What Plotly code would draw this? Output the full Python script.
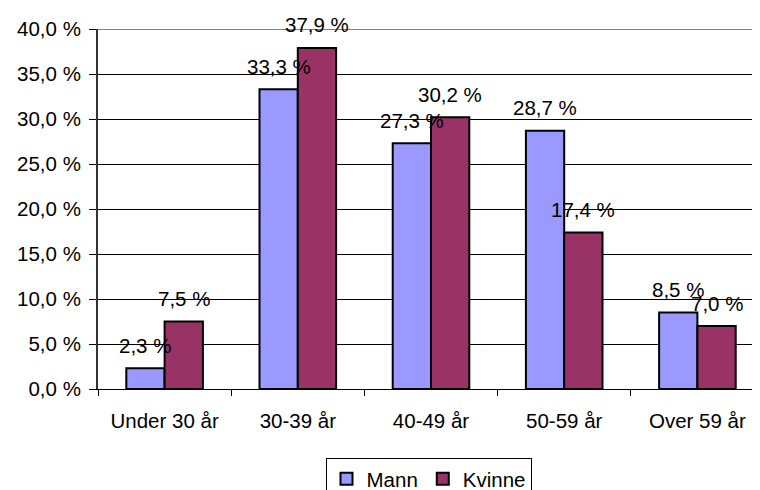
import plotly.graph_objects as go

categories = ["Under 30 år", "30-39 år", "40-49 år", "50-59 år", "Over 59 år"]
mann = [2.3, 33.3, 27.3, 28.7, 8.5]
kvinne = [7.5, 37.9, 30.2, 17.4, 7.0]
series_names = ["Mann", "Kvinne"]
y_tickvals = [0, 5, 10, 15, 20, 25, 30, 35, 40]
y_ticktext = ["0,0 %", "5,0 %", "10,0 %", "15,0 %", "20,0 %", "25,0 %", "30,0 %", "35,0 %", "40,0 %"]

FONT = "Liberation Sans, Arial, sans-serif"
FS = 20.5
colors = ["#9999FF", "#993366"]


def fmt(v):
    return f"{v:.1f}".replace(".", ",") + " %"


fig = go.Figure()
for name, vals, col in zip(series_names, [mann, kvinne], colors):
    fig.add_trace(go.Bar(
        x=categories, y=vals, name=name,
        marker=dict(color=col, line=dict(color="black", width=2)),
    ))

annotations = []
half = 19.15
for vals, sh in [(mann, -half), (kvinne, half)]:
    for c, v in zip(categories, vals):
        annotations.append(dict(
            x=c, y=v, xref="x", yref="y", text=fmt(v), showarrow=False,
            xshift=sh, yshift=23, yanchor="middle", xanchor="center",
            font=dict(family=FONT, size=FS, color="black"),
        ))

# page body has an 8px margin; margins below compensate so the plot lands where the reference has it
fig.update_layout(
    width=760, height=490,
    margin=dict(l=90, r=0, t=21, b=109, pad=0, autoexpand=False),
    paper_bgcolor="white", plot_bgcolor="white",
    barmode="group", bargap=0.425, bargroupgap=0,
    font=dict(family=FONT, size=FS, color="black"),
    showlegend=True,
    legend=dict(
        orientation="h", xref="container", x=(428.5 - 8) / 760, xanchor="center",
        yref="container", y=(490 - 450) / 490, yanchor="top",
        bordercolor="black", borderwidth=1, bgcolor="white",
        font=dict(family=FONT, size=FS, color="black"),
        itemwidth=30, tracegroupgap=0,
    ),
    annotations=annotations,
    shapes=[dict(type="line", xref="paper", yref="y", x0=0, x1=1, y0=40, y1=40,
                 line=dict(color="#808080", width=2), layer="above")],
)
fig.update_xaxes(
    type="category", range=[-0.5, 4.53], automargin=False,
    showline=True, linecolor="black", linewidth=1,
    ticks="outside", ticklen=6, tickcolor="black", tickson="boundaries",
    showgrid=False, zeroline=False, ticklabelstandoff=13,
    tickfont=dict(family=FONT, size=FS, color="black"),
)
fig.update_yaxes(
    range=[0, 40], tickvals=y_tickvals, ticktext=y_ticktext, automargin=False,
    showline=True, linecolor="#333333", linewidth=2,
    ticks="outside", ticklen=7, tickcolor="black", ticklabelstandoff=4,
    showgrid=True, gridcolor="black", gridwidth=1, zeroline=False,
    tickfont=dict(family=FONT, size=FS, color="black"),
)

fig.write_html("out.html")
